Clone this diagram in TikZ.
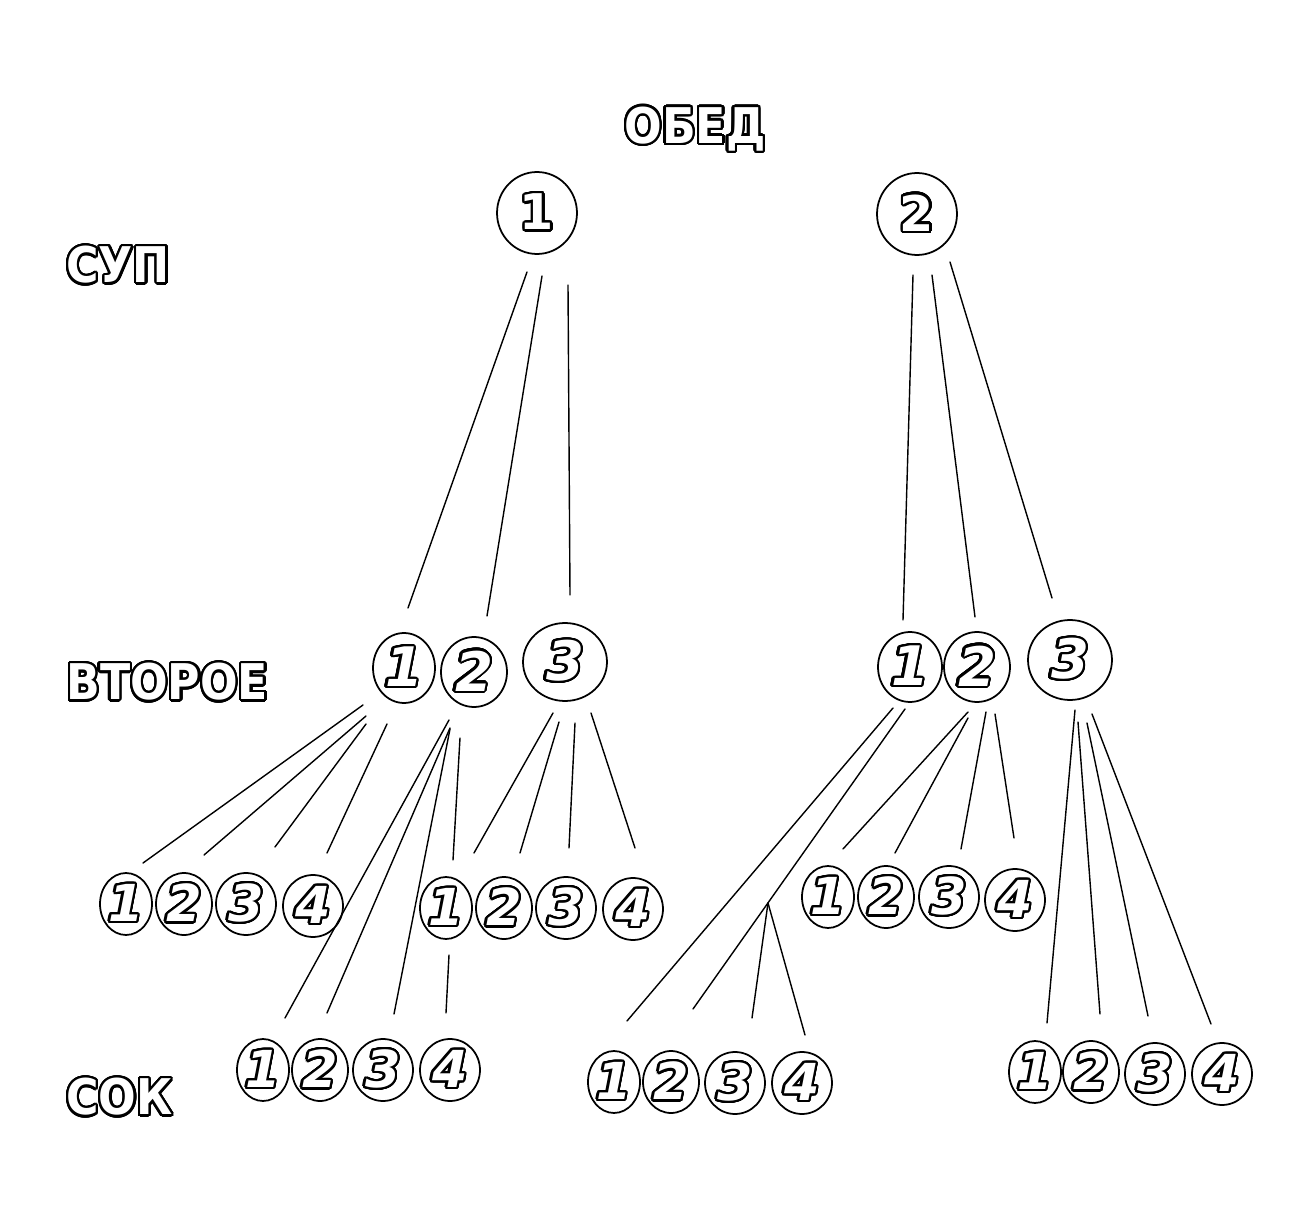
\documentclass[tikz,border=0pt]{standalone}
\usepackage{fontspec}
\setmainfont{DejaVu Sans}
\newfontfamily\labelfont{DejaVu Sans Condensed}
\usepackage{contour}
\contourlength{1.3pt}
\contournumber{32}
\usetikzlibrary{shapes.geometric,calc}
\usepackage{tkz-euclide}
% white letters, black rim
\newcommand\Outl[1]{{\color{white}\contour{black}{#1}}}
\tikzset{dish/.style={draw,ellipse,line width=1pt,inner sep=0pt,minimum width=1.12cm,minimum height=1.24cm,font=\bfseries\itshape\fontsize{29}{29}\selectfont},
  side/.style={dish,minimum width=1.32cm,minimum height=1.4cm,font=\bfseries\itshape\fontsize{31}{31}\selectfont},
  maindish/.style={dish,minimum width=1.6cm,minimum height=1.64cm,font=\bfseries\fontsize{28}{28}\selectfont},
  course/.style={anchor=west,inner sep=0pt,font=\labelfont\bfseries\fontsize{28}{30}\selectfont}}

\begin{document}
\begin{tikzpicture}[x=0.02cm,y=-0.02cm]
\useasboundingbox (0,0) rectangle (1306,1209);
\tkzSetUpLine[line width=0.8pt,color=black]

\node[course,anchor=center] (obed) at (695,130) {\Outl{ОБЕД}};
\node[course] (sup) at (66,266) {\Outl{СУП}};
\node[course] (vtoroe) at (66,683) {\Outl{ВТОРОЕ}};
\node[course] (sok) at (66,1098) {\Outl{СОК}};

% soups
\node[maindish] (S1) at (537,213) {\Outl{1}};
\node[maindish] (S2) at (917,214) {\Outl{2}};

% second courses
\node[side,minimum width=1.24cm] (L1) at (404,668) {\Outl{1}};
\node[side] (L2) at (474,672) {\Outl{2}};
\node[side,minimum width=1.68cm,minimum height=1.56cm] (L3) at (565,662) {\Outl{3}};
\node[side,minimum width=1.28cm] (R1) at (910,667) {\Outl{1}};
\node[side] (R2) at (977,667) {\Outl{2}};
\node[side,minimum width=1.68cm,minimum height=1.6cm] (R3) at (1070,660) {\Outl{3}};

% juices
\node[dish,minimum width=1.04cm] (A1) at (126,904) {\Outl{1}};
\node[dish] (A2) at (184,904) {\Outl{2}};
\node[dish,minimum width=1.2cm] (A3) at (246,904) {\Outl{3}};
\node[dish,minimum width=1.2cm] (A4) at (313,906) {\Outl{4}};
\node[dish,minimum width=1.04cm] (B1) at (446,908) {\Outl{1}};
\node[dish] (B2) at (504,908) {\Outl{2}};
\node[dish,minimum width=1.2cm] (B3) at (566,908) {\Outl{3}};
\node[dish,minimum width=1.2cm] (B4) at (633,909) {\Outl{4}};
\node[dish,minimum width=1.04cm] (C1) at (263,1070) {\Outl{1}};
\node[dish] (C2) at (320,1070) {\Outl{2}};
\node[dish,minimum width=1.2cm] (C3) at (383,1070) {\Outl{3}};
\node[dish,minimum width=1.2cm] (C4) at (450,1070) {\Outl{4}};
\node[dish,minimum width=1.04cm] (D1) at (828,897) {\Outl{1}};
\node[dish] (D2) at (886,897) {\Outl{2}};
\node[dish,minimum width=1.2cm] (D3) at (949,897) {\Outl{3}};
\node[dish,minimum width=1.2cm] (D4) at (1015,900) {\Outl{4}};
\node[dish,minimum width=1.04cm] (E1) at (614,1082) {\Outl{1}};
\node[dish] (E2) at (671,1082) {\Outl{2}};
\node[dish,minimum width=1.2cm] (E3) at (735,1083) {\Outl{3}};
\node[dish,minimum width=1.2cm] (E4) at (802,1083) {\Outl{4}};
\node[dish,minimum width=1.04cm] (F1) at (1035,1072) {\Outl{1}};
\node[dish] (F2) at (1091,1072) {\Outl{2}};
\node[dish,minimum width=1.2cm] (F3) at (1155,1074) {\Outl{3}};
\node[dish,minimum width=1.2cm] (F4) at (1222,1074) {\Outl{4}};

\tkzDefPoints{527/272/u1,408/608/u1e,542/276/u2,487/616/u2e,568/285/u3,570/595/u3e,
  913/275/u4,903/620/u4e,932/275/u5,975/617/u5e,950/262/u6,1052/598/u6e}
\tkzDefPoints{363/705/a1,143/863/a1e,366/716/a2,204/855/a2e,366/724/a3,275/847/a3e,387/724/a4,327/853/a4e}
\tkzDefPoints{449/720/c1,285/1018/c1e,450/728/c2,327/1013/c2e,450/729/c3,394/1014/c3e,
  460/738/c4,453/860/c4e,449/955/c5,446/1013/c5e}
\tkzDefPoints{553/713/b1,474/853/b1e,559/722/b2,520/853/b2e,575/723/b3,569/848/b3e,591/713/b4,635/848/b4e}
\tkzDefPoints{893/708/e1,627/1021/e1e,905/709/e2,693/1009/e2e,768/903/k,752/1018/e3e,805/1035/e4e}
\tkzDefPoints{968/712/d1,843/849/d1e,968/718/d2,895/853/d2e,986/712/d3,961/849/d3e,995/714/d4,1014/838/d4e}
\tkzDefPoints{1075/710/f1,1047/1023/f1e,1078/722/f2,1100/1014/f2e,1087/723/f3,1148/1016/f3e,1092/714/f4,1211/1024/f4e}

\tkzDrawSegments(u1,u1e u2,u2e u3,u3e u4,u4e u5,u5e u6,u6e)
\tkzDrawSegments(a1,a1e a2,a2e a3,a3e a4,a4e b1,b1e b2,b2e b3,b3e b4,b4e)
\tkzDrawSegments(c1,c1e c2,c2e c3,c3e c4,c4e c5,c5e)
\tkzDrawSegments(e1,e1e e2,e2e k,e3e k,e4e d1,d1e d2,d2e d3,d3e d4,d4e)
\tkzDrawSegments(f1,f1e f2,f2e f3,f3e f4,f4e)

\end{tikzpicture}
\end{document}
